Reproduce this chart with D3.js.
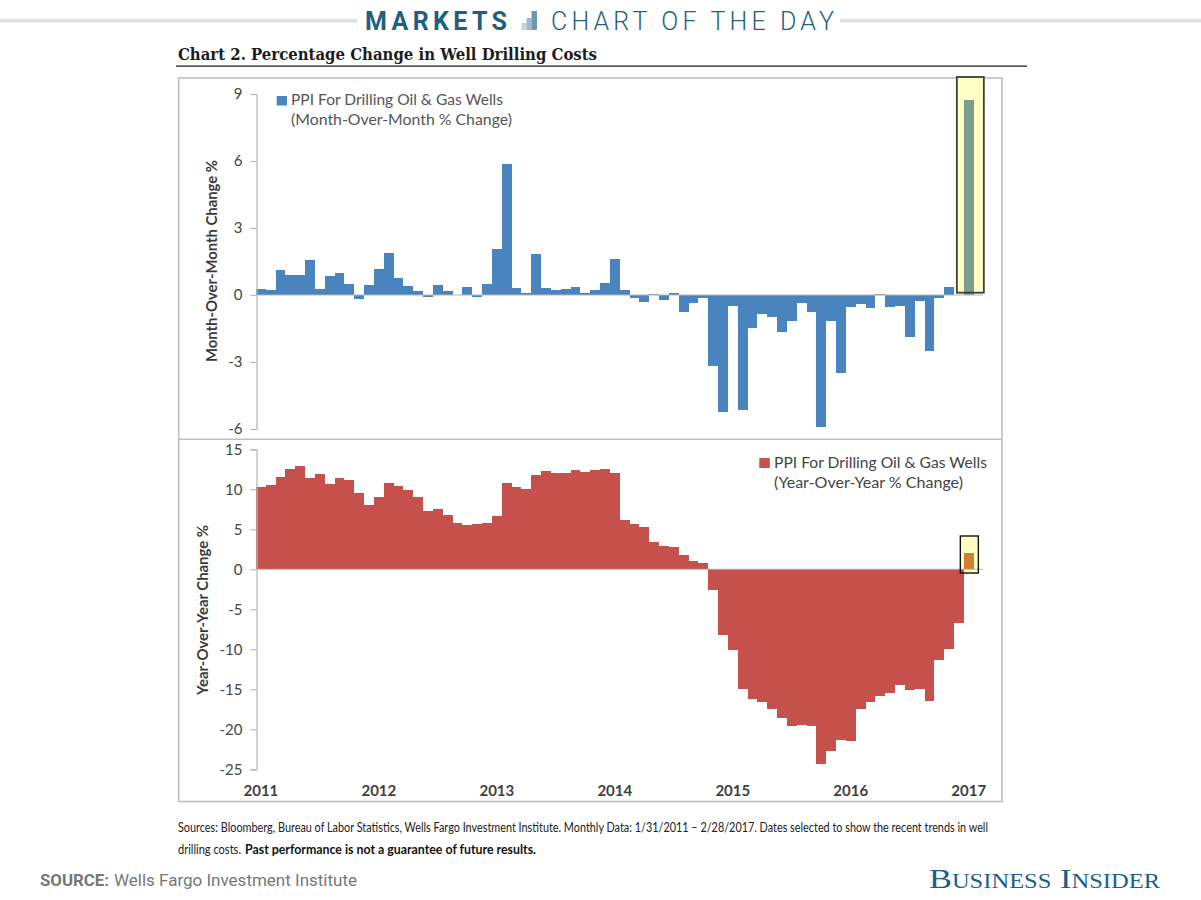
<!DOCTYPE html>
<html><head><meta charset="utf-8">
<script src="https://cdn.jsdelivr.net/npm/d3@7"></script>
<style>html,body{margin:0;padding:0;background:#fff;overflow:hidden}svg{display:block}</style>
</head><body><svg id="c" width="1201" height="900"></svg>
<script>
const months = d3.range(74);
const yearLabels = ["2011","2012","2013","2014","2015","2016","2017"];
const momTicks = [9,6,3,0,-3,-6];
const yoyTicks = [15,10,5,0,-5,-10,-15,-20,-25];
const momValues = [0.28,0.24,1.1,0.9,0.9,1.55,0.27,0.87,0.98,0.5,-0.18,0.43,1.15,1.88,0.78,0.39,0.18,-0.1,0.45,0.18,0.02,0.34,-0.07,0.5,2.04,5.85,0.31,0.08,1.82,0.3,0.22,0.27,0.35,0.1,0.22,0.55,1.6,0.22,-0.12,-0.3,0.03,-0.24,0.1,-0.75,-0.37,-0.13,-3.2,-5.22,-0.49,-5.15,-1.49,-0.85,-1.0,-1.64,-1.15,-0.37,-0.78,-5.93,-1.15,-3.49,-0.55,-0.4,-0.6,0.05,-0.52,-0.49,-1.88,-0.25,-2.49,-0.13,0.36,0,8.73];
const yoyValues = [10.3,10.5,11.6,12.5,12.9,11.4,11.95,10.67,11.46,11.2,9.6,8.1,9.04,10.83,10.46,9.9,9.08,7.25,7.5,6.75,5.75,5.54,5.62,5.75,6.67,10.8,10.3,10.0,11.75,12.25,12.0,12.08,12.4,12.2,12.46,12.54,12.1,6.2,5.7,5.3,3.46,2.96,2.8,1.75,1.04,0.83,-2.6,-8.2,-10.1,-14.9,-16.2,-16.6,-17.5,-18.6,-19.6,-19.4,-19.6,-24.3,-22.7,-21.3,-21.4,-17.4,-16.6,-15.8,-15.5,-14.5,-15.1,-15,-16.5,-11.3,-10,-6.7,2.0];

const svg = d3.select("#c");
const BODY = "Lato, 'Open Sans', sans-serif";
const x = d3.scaleBand().domain(months).range([256, 983.5]).padding(0);
const yTop = d3.scaleLinear().domain([-6,9]).range([429,94]);
const yBot = d3.scaleLinear().domain([-25,15]).range([769.3,449.3]);
const last = momValues.length - 1;

function txt(s,px,py,size,fill,opt={}){
  const t = svg.append("text").attr("x",px).attr("y",py).text(s)
    .attr("font-size",size).attr("fill",fill)
    .attr("font-family",opt.family||BODY).attr("font-weight",opt.weight||400);
  if(opt.anchor) t.attr("text-anchor",opt.anchor);
  if(opt.len) t.attr("textLength",opt.len).attr("lengthAdjust",opt.adjust||"spacingAndGlyphs");
  if(opt.rotate) t.attr("transform",`rotate(-90 ${px} ${py})`);
  if(opt.variant) t.style("font-variant",opt.variant);
  return t;
}

// header
svg.append("rect").attr("x",0).attr("y",19).attr("width",357).attr("height",3.5).attr("fill","#e2e2e2");
svg.append("rect").attr("x",840).attr("y",19).attr("width",361).attr("height",3.5).attr("fill","#e2e2e2");
txt("MARKETS",365,30,25,"#1f5f7f",{family:"Roboto",weight:700,len:142,adjust:"spacing"});
txt("CHART OF THE DAY",551,30,25,"#1f5f7f",{family:"Roboto",weight:300,len:283,adjust:"spacing"});
[[521.5,5,"#c3d3dc",7],[526.5,5,"#9db8c6",12],[531.5,5.5,"#6f97ad",19]].forEach(b=>{
  svg.append("rect").attr("x",b[0]).attr("y",30-b[3]).attr("width",b[1]).attr("height",b[3]).attr("fill",b[2]);
});
txt("Chart 2. Percentage Change in Well Drilling Costs",178,60,17,"#1c1c1c",{family:"'DejaVu Serif'",weight:700,len:419});
svg.append("rect").attr("x",176).attr("y",65.5).attr("width",851).attr("height",1.2).attr("fill","#111");

// frame
svg.append("rect").attr("x",178.7).attr("y",78).attr("width",823.3).attr("height",723.5)
  .attr("fill","#fff").attr("stroke","#bfbfbf").attr("stroke-width",1.6);
svg.append("line").attr("x1",178.7).attr("x2",1002).attr("y1",439.3).attr("y2",439.3)
  .attr("stroke","#bfbfbf").attr("stroke-width",1.6);

// highlight boxes (behind bars)
const hlFill = "#ffffc4";
svg.append("rect").attr("x",x(last)-7).attr("y",77).attr("width",27).attr("height",215.7).attr("fill",hlFill);
svg.append("rect").attr("x",x(last)-3.5).attr("y",536).attr("width",18).attr("height",37).attr("fill",hlFill);

function panel(values,y,ticks,color,lastColor){
  svg.append("g").attr("shape-rendering","crispEdges").selectAll("rect").data(values).join("rect")
    .attr("x",(d,i)=>x(i)).attr("width",x.bandwidth())
    .attr("y",d=>Math.min(y(d),y(0))).attr("height",d=>Math.abs(y(d)-y(0)))
    .attr("fill",(d,i)=>i===last?lastColor:color);
  const ax = d3.axisLeft(y).tickValues(ticks).tickSize(6).tickPadding(8).tickFormat(d=>String(d));
  const g = svg.append("g").attr("transform","translate(256.5,0)").call(ax);
  g.select(".domain").attr("stroke","#b5b5b5").attr("stroke-width",1.2);
  g.selectAll(".tick line").attr("stroke","#b5b5b5").attr("stroke-width",1.2);
  g.selectAll(".tick text").attr("font-family",BODY).attr("font-size",15).attr("fill","#444");
  svg.append("line").attr("x1",256.5).attr("x2",983).attr("y1",y(0)).attr("y2",y(0))
    .attr("stroke","#b5b5b5").attr("stroke-width",1);
}
panel(momValues,yTop,momTicks,"#4a84bf","#7a9f8c");
panel(yoyValues,yBot,yoyTicks,"#c5504c","#d17d33");

// highlight outlines over the bars
svg.append("rect").attr("x",x(last)-7).attr("y",77).attr("width",27).attr("height",215.7)
  .attr("fill","none").attr("stroke","#3d3d3d").attr("stroke-width",1.8);
svg.append("rect").attr("x",x(last)-3.5).attr("y",536).attr("width",18).attr("height",37)
  .attr("fill","none").attr("stroke","#111").attr("stroke-width",1.4);

// x labels
yearLabels.forEach((yr,i)=>{
  txt(yr,x(i*12)+x.bandwidth()/2,796,15,"#3f3f3f",{anchor:"middle",weight:700});
});

// axis titles
txt("Month-Over-Month Change %",217,362,14.5,"#3a3a3a",{weight:700,rotate:true,len:202});
txt("Year-Over-Year Change %",208,695,14.5,"#3a3a3a",{weight:700,rotate:true,len:170});

// legends
svg.append("rect").attr("x",276.7).attr("y",96).attr("width",10.3).attr("height",9.5).attr("fill","#4a84bf");
txt("PPI For Drilling Oil & Gas Wells",291,105,14.5,"#555",{len:212});
txt("(Month-Over-Month % Change)",291,125,14.5,"#555",{len:221});
svg.append("rect").attr("x",759.3).attr("y",458).attr("width",10.5).attr("height",10).attr("fill","#c5504c");
txt("PPI For Drilling Oil & Gas Wells",774,468,14.5,"#444",{len:213});
txt("(Year-Over-Year % Change)",774,488,14.5,"#444",{len:189});

// footer
txt("Sources: Bloomberg, Bureau of Labor Statistics, Wells Fargo Investment Institute. Monthly Data: 1/31/2011 – 2/28/2017. Dates selected to show the recent trends in well",178,832,12.5,"#222",{len:810});
txt("drilling costs.",178,854,12.5,"#222",{len:63});
txt("Past performance is not a guarantee of future results.",245,854,12.5,"#111",{weight:700,len:291});
txt("SOURCE:",40,886,16,"#777",{family:"Roboto",weight:700,len:69});
txt("Wells Fargo Investment Institute",114,886,16,"#777",{family:"Roboto",len:243});
txt("Business Insider",929,888,28,"#1d5f87",{family:"'Liberation Serif'",variant:"small-caps",len:231});
</script></body></html>
